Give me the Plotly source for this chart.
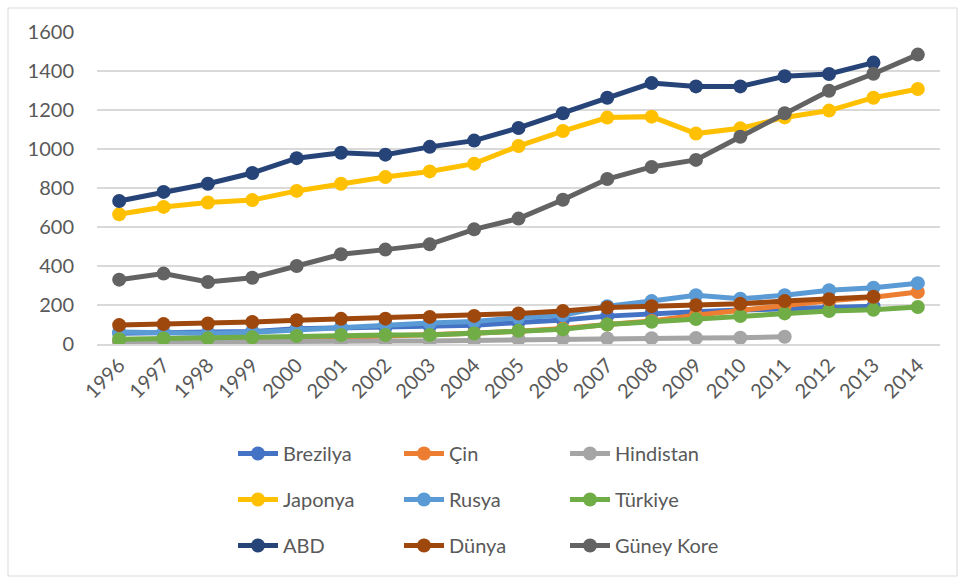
import plotly.graph_objects as go

years = [str(y) for y in range(1996, 2015)]

brezilya = [55, 57, 58, 64, 78, 82, 84, 90, 96, 110, 123, 143, 157, 165, 174, 180, 191, 194, None]
cin = [12, 14, 17, 22, 27, 33, 39, 45, 55, 66, 79, 100, 118, 148, 174, 194, 222, 240, 267]
hindistan = [9, 9, 10, 11, 13, 14, 15, 16, 19, 24, 27, 28, 30, 31, 32, 37, None, None, None]
japonya = [665, 703, 726, 738, 785, 822, 856, 885, 925, 1015, 1092, 1161, 1166, 1079, 1106, 1162, 1197, 1263, 1308]
rusya = [62, 60, 54, 60, 72, 87, 100, 108, 115, 135, 148, 194, 220, 250, 232, 250, 276, 289, 312]
turkiye = [24, 28, 29, 34, 41, 46, 46, 46, 54, 68, 75, 100, 114, 128, 143, 157, 169, 176, 190]
abd = [733, 780, 822, 877, 953, 981, 971, 1011, 1043, 1108, 1183, 1263, 1338, 1321, 1321, 1373, 1385, 1443, None]
dunya = [97, 102, 105, 113, 122, 129, 130, 139, 144, 157, 169, 187, 194, 199, 206, 220, 230, 242, None]
guney_kore = [330, 361, 318, 340, 400, 460, 484, 511, 588, 643, 740, 846, 908, 944, 1063, 1183, 1299, 1386, 1484]

# (name, values, colour, legend column)
series = [
    ("Brezilya", brezilya, "#4472C4", "legend"),
    ("Çin", cin, "#ED7D31", "legend2"),
    ("Hindistan", hindistan, "#A5A5A5", "legend3"),
    ("Japonya", japonya, "#FFC000", "legend"),
    ("Rusya", rusya, "#5B9BD5", "legend2"),
    ("Türkiye", turkiye, "#70AD47", "legend3"),
    ("ABD", abd, "#264478", "legend"),
    ("Dünya", dunya, "#9E480E", "legend2"),
    ("Güney Kore", guney_kore, "#636363", "legend3"),
]

FONT = "Lato, Calibri, Carlito, sans-serif"
TEXT = "#595959"

fig = go.Figure()
for name, vals, col, leg in series:
    fig.add_trace(go.Scatter(
        x=years, y=vals, name=name, mode="lines+markers",
        line=dict(color=col, width=5),
        marker=dict(color=col, size=14),
        legend=leg, legendgroup=name,
        connectgaps=False,
    ))

L, R, T, B = 97, 25, 32, 237
W, H = 965, 581
pw, ph = W - L - R, H - T - B


def px_x(px):
    return (px - L) / pw


def px_y(py):
    return (H - B - py) / ph


leg_common = dict(
    orientation="v",
    y=px_y(434), yanchor="top", xanchor="left",
    font=dict(family=FONT, size=20, color=TEXT),
    tracegroupgap=17, bgcolor="rgba(0,0,0,0)",
    itemwidth=40,
)
fig.update_layout(
    width=W, height=H,
    margin=dict(l=L, r=R, t=T, b=B, autoexpand=False),
    paper_bgcolor="white", plot_bgcolor="white",
    font=dict(family=FONT, size=20, color=TEXT),
    legend=dict(leg_common, x=px_x(233)),
    legend2=dict(leg_common, x=px_x(399)),
    legend3=dict(leg_common, x=px_x(565)),
    xaxis=dict(
        type="category", range=[-0.5, len(years) - 0.5],
        tickangle=-45, showgrid=False,
        showline=True, linecolor="#D9D9D9", linewidth=1.5,
        ticks="", tickfont=dict(family=FONT, size=20, color=TEXT),
        automargin=False,
    ),
    yaxis=dict(
        range=[0, 1600], dtick=200, showgrid=True,
        gridcolor="#D9D9D9", gridwidth=1.5, zeroline=False,
        ticks="", tickfont=dict(family=FONT, size=20, color=TEXT),
        ticklabelstandoff=22, automargin=False,
    ),
)

# outer chart frame
fig.add_shape(
    type="rect", xref="paper", yref="paper",
    x0=px_x(8), x1=px_x(957),
    y0=px_y(576), y1=px_y(8),
    line=dict(color="#D9D9D9", width=1), layer="below",
)

fig.write_html("out.html")
